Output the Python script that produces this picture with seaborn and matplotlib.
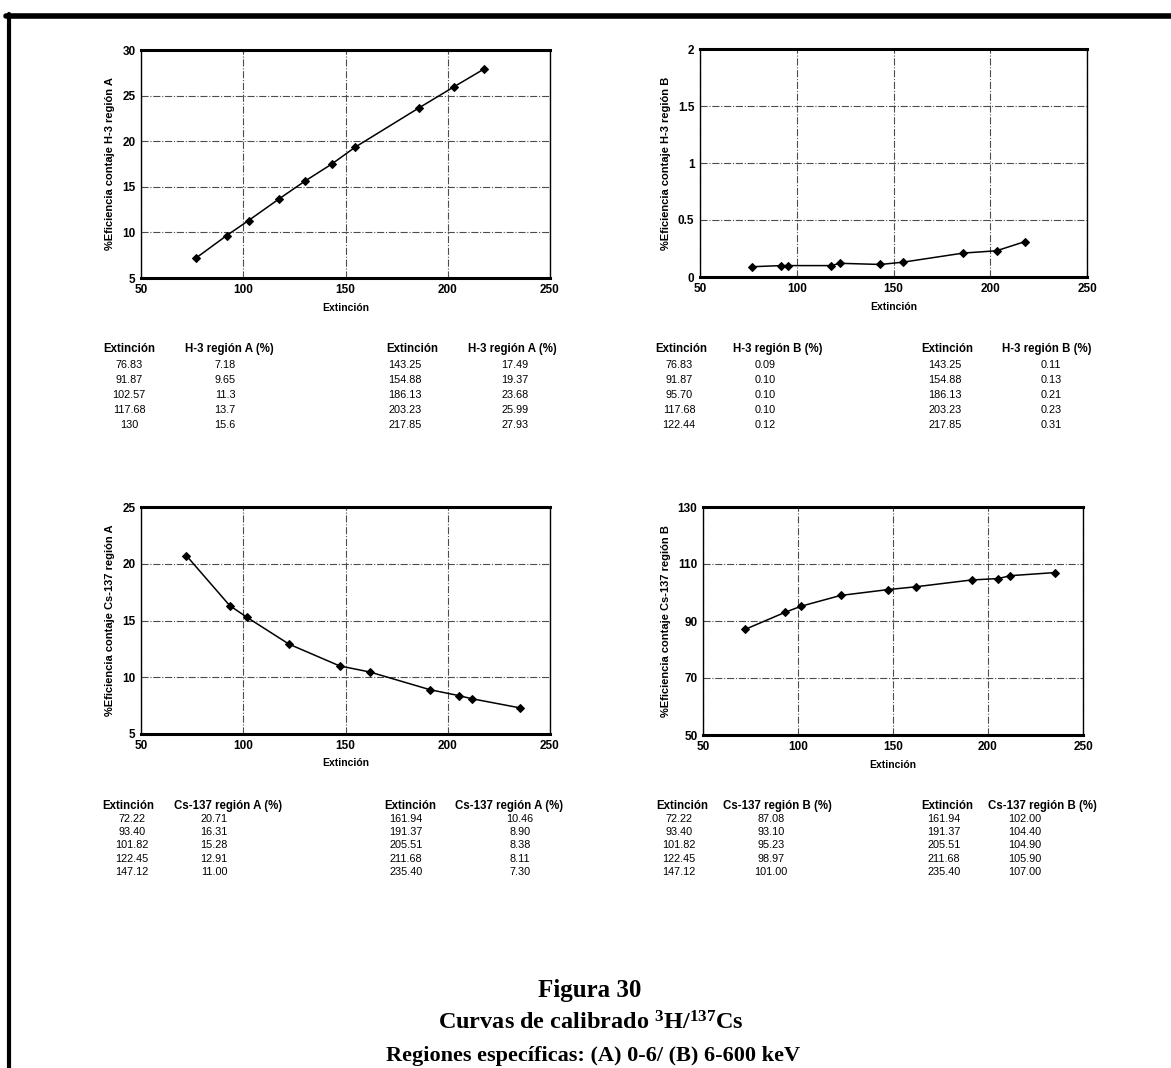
#Curvas de calibrado 3H/137Cs - Figura 30
import numpy as np
import pandas as pd
import matplotlib
matplotlib.use("Agg")
import matplotlib.pyplot as plt
from matplotlib.lines import Line2D
from matplotlib.ticker import FuncFormatter
import seaborn as sns

# Datos
ext_h3a = [76.83, 91.87, 102.57, 117.68, 130, 143.25, 154.88, 186.13, 203.23, 217.85]
h3_regA = [7.18, 9.65, 11.3, 13.7, 15.6, 17.49, 19.37, 23.68, 25.99, 27.93]

ext_h3b = [76.83, 91.87, 95.70, 117.68, 122.44, 143.25, 154.88, 186.13, 203.23, 217.85]
h3_regB = [0.09, 0.10, 0.10, 0.10, 0.12, 0.11, 0.13, 0.21, 0.23, 0.31]

ext_cs = [72.22, 93.40, 101.82, 122.45, 147.12, 161.94, 191.37, 205.51, 211.68, 235.40]
cs_regA = [20.71, 16.31, 15.28, 12.91, 11.00, 10.46, 8.90, 8.38, 8.11, 7.30]
cs_regB = [87.08, 93.10, 95.23, 98.97, 101.00, 102.00, 104.40, 104.90, 105.90, 107.00]

yticks_h3a = [5, 10, 15, 20, 25, 30]
yticks_h3b = [0, 0.5, 1, 1.5, 2]
yticks_csa = [5, 10, 15, 20, 25]
yticks_csb = [50, 70, 90, 110, 130]
xticks = [50, 100, 150, 200, 250]

sns.set_style("white")
plt.rcParams['font.family'] = ['Liberation Sans', 'DejaVu Sans']
plt.rcParams['text.color'] = 'black'
plt.rcParams['axes.labelcolor'] = 'black'
plt.rcParams['xtick.color'] = 'black'
plt.rcParams['ytick.color'] = 'black'
plt.rcParams['mathtext.fontset'] = 'custom'
plt.rcParams['mathtext.rm'] = 'Liberation Serif:bold'
plt.rcParams['mathtext.default'] = 'rm'

W, H = 1171, 1068
fig = plt.figure(figsize=(W/100, H/100), dpi=100)

def px(x, y):
    return x / W, 1 - y / H

def panel(rect, x, y, ylabel, yticks):
    l, t, r, b = rect
    ax = fig.add_axes([l / W, 1 - b / H, (r - l) / W, (b - t) / H])
    df = pd.DataFrame({'x': x, 'y': y})
    sns.lineplot(data=df, x='x', y='y', ax=ax, color='black', lw=1.1,
                 marker='D', markersize=4.5, markeredgecolor='black', sort=False)
    ax.set_xlim(xticks[0], xticks[-1])
    ax.set_ylim(yticks[0], yticks[-1])
    ax.set_xticks(xticks)
    ax.set_yticks(yticks)
    ax.yaxis.set_major_formatter(FuncFormatter(lambda v, p: '%g' % v))
    ax.grid(True, linestyle='-.', color='0.3', lw=0.8)
    ax.tick_params(labelsize=8.5, direction='in', length=2, pad=4)
    for lab in ax.get_xticklabels() + ax.get_yticklabels():
        lab.set_fontweight('bold')
    ax.set_xlabel('Extinción', fontsize=7.5, fontweight='bold', labelpad=5)
    ax.set_ylabel(ylabel, fontsize=8, fontweight='bold', labelpad=5)
    ax.spines['top'].set_linewidth(2.2)
    ax.spines['bottom'].set_linewidth(2.2)
    ax.spines['left'].set_linewidth(1.0)
    ax.spines['right'].set_linewidth(1.0)
    for s in ax.spines.values():
        s.set_color('black')
    return ax

panel((141, 50, 550, 278), ext_h3a, h3_regA, '%Eficiencia contaje H-3 región A', yticks_h3a)
panel((700, 49, 1087, 277), ext_h3b, h3_regB, '%Eficiencia contaje H-3 región B', yticks_h3b)
panel((141, 507, 550, 734), ext_cs, cs_regA, '%Eficiencia contaje Cs-137 región A', yticks_csa)
panel((703, 507, 1083, 735), ext_cs, cs_regB, '%Eficiencia contaje Cs-137 región B', yticks_csb)

# Tablas
def tabla(xvals, yvals, xfmt, yfmt, name, hx, vx, hy, rows):
    for k in range(2):
        sl = slice(5 * k, 5 * k + 5)
        h1, h2 = hx[2 * k], hx[2 * k + 1]
        v1, v2 = vx[2 * k], vx[2 * k + 1]
        fig.text(*px(h1, hy), 'Extinción', ha='center', va='center', fontsize=8.3, fontweight='bold')
        fig.text(*px(h2, hy), name, ha='center', va='center', fontsize=8.3, fontweight='bold')
        for ry, a, b in zip(rows, xvals[sl], yvals[sl]):
            fig.text(*px(v1, ry), xfmt % a, ha='center', va='center', fontsize=7.8)
            fig.text(*px(v2, ry), yfmt % b, ha='center', va='center', fontsize=7.8)

rows_top = [365, 380, 395, 410, 425]
rows_bot = [819, 832, 845, 859, 872]
tabla(ext_h3a, h3_regA, '%g', '%g', 'H-3 región A (%)',
      [129, 229, 412, 512], [129, 225, 405, 515], 349, rows_top)
tabla(ext_h3b, h3_regB, '%.2f', '%.2f', 'H-3 región B (%)',
      [681, 778, 947, 1047], [679, 765, 945, 1051], 349, rows_top)
tabla(ext_cs, cs_regA, '%.2f', '%.2f', 'Cs-137 región A (%)',
      [128, 228, 410, 509], [132, 214, 406, 520], 806, rows_bot)
tabla(ext_cs, cs_regB, '%.2f', '%.2f', 'Cs-137 región B (%)',
      [682, 777, 947, 1042], [679, 771, 944, 1025], 806, rows_bot)

# Pie de figura
serif = ['Liberation Serif', 'DejaVu Serif']
fig.text(*px(590, 997), 'Figura 30', ha='center', va='baseline', fontsize=18,
         fontweight='bold', family=serif)
fig.text(*px(591, 1030), r'Curvas de calibrado $^{3}$H/$^{137}$Cs', ha='center', va='baseline',
         fontsize=17.5, fontweight='bold', family=serif)
fig.text(*px(593, 1061), 'Regiones específicas: (A) 0-6/ (B) 6-600 keV', ha='center',
         va='baseline', fontsize=16, fontweight='bold', family=serif)

# Marco
fig.add_artist(Line2D([6 / W, 1], [1 - 16 / H, 1 - 16 / H], color='black', lw=4))
fig.add_artist(Line2D([9 / W, 9 / W], [1 - 14 / H, 0], color='black', lw=3))

fig.savefig('out.png', dpi=100)
